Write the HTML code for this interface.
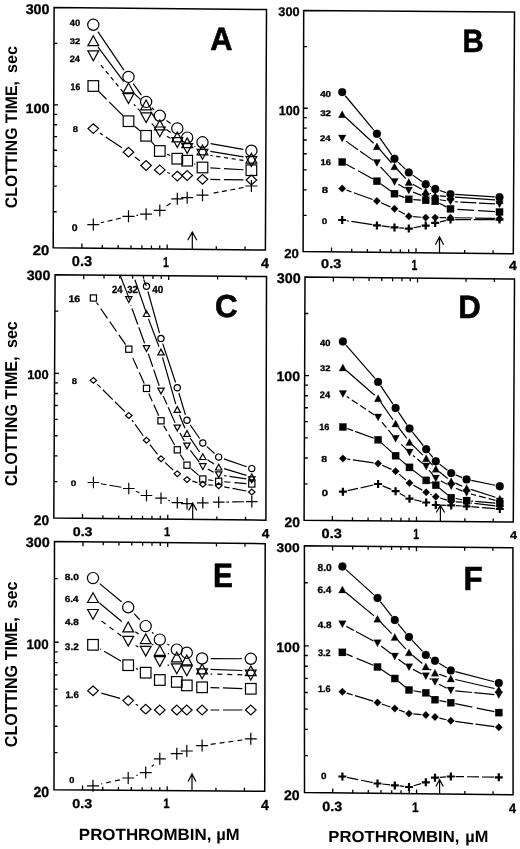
<!DOCTYPE html>
<html><head><meta charset="utf-8"><title>Clotting time vs prothrombin</title>
<style>
html,body{margin:0;padding:0;background:#fff;}
body{width:520px;height:849px;overflow:hidden;}
svg{display:block;filter:grayscale(100%);}
text{font-family:"Liberation Sans", sans-serif;font-weight:bold;fill:#000;text-rendering:geometricPrecision;}
</style></head><body>
<svg width="520" height="849" viewBox="0 0 520 849">
<rect width="520" height="849" fill="#fff"/>
<g shape-rendering="geometricPrecision">
<path d="M54.1 7.5L266.5 9.5L265.4 250L53.2 247.7Z" fill="none" stroke="#000" stroke-width="1.5" stroke-linejoin="miter"/>
<path d="M81.92 248.01v-4.4M102.3 248.23v-3.3M118.1 248.4v-3.3M131.02 248.54v-3.3M141.94 248.66v-3.3M151.4 248.76v-3.3M159.74 248.85v-3.3M167.2 248.94v-4.4M216.3 249.47v-3.3M245.02 249.78v-3.3M53.97 43.46h3.4M53.73 104.95h4.4M53.7 114.29h3.4M53.66 124.74h3.4M53.62 136.58h3.4M53.57 150.25h3.4M53.5 166.43h3.4M53.43 186.22h3.4M53.33 211.74h3.4" stroke="#000" stroke-width="1.3"/>
<path d="M303.7 10.5L514.5 12L513.3 253.8L303.1 251.5Z" fill="none" stroke="#000" stroke-width="1.5" stroke-linejoin="miter"/>
<path d="M331.55 251.81v-4.4M351.74 252.03v-3.3M367.39 252.2v-3.3M380.19 252.34v-3.3M391 252.46v-3.3M400.37 252.56v-3.3M408.64 252.65v-3.3M416.03 252.74v-4.4M464.66 253.27v-3.3M493.11 253.58v-3.3M303.61 46.58h3.4M303.46 108.27h4.4M303.43 117.65h3.4M303.41 128.13h3.4M303.38 140.01h3.4M303.34 153.73h3.4M303.3 169.96h3.4M303.25 189.81h3.4M303.19 215.42h3.4" stroke="#000" stroke-width="1.3"/>
<path d="M55.1 274.7L266.5 276.6L265.9 520.2L53.8 518.1Z" fill="none" stroke="#000" stroke-width="1.5" stroke-linejoin="miter"/>
<path d="M82.51 518.38v-4.4M83.71 274.96v4.4M102.88 518.59v-3.3M104.01 275.14v3.3M118.67 518.74v-3.3M119.76 275.28v3.3M131.58 518.87v-3.3M132.63 275.4v3.3M142.5 518.98v-3.3M143.5 275.49v3.3M151.95 519.07v-3.3M152.93 275.58v3.3M160.29 519.15v-3.3M161.24 275.65v3.3M167.75 519.23v-4.4M168.67 275.72v4.4M216.82 519.71v-3.3M217.59 276.16v3.3M245.53 520v-3.3M246.2 276.42v3.3M54.91 311.14h3.4M54.57 373.44h4.4M54.52 382.91h3.4M54.47 393.5h3.4M54.4 405.5h3.4M54.33 419.36h3.4M54.24 435.74h3.4M54.13 455.8h3.4M53.99 481.66h3.4" stroke="#000" stroke-width="1.3"/>
<path d="M305 277.1L514.5 279L513.3 522L304.1 520.2Z" fill="none" stroke="#000" stroke-width="1.5" stroke-linejoin="miter"/>
<path d="M332.41 520.44v-4.4M333.36 277.36v4.4M352.5 520.62v-3.3M353.47 277.54v3.3M368.09 520.75v-3.3M369.08 277.68v3.3M380.82 520.86v-3.3M381.83 277.8v3.3M391.58 520.95v-3.3M392.61 277.89v3.3M400.91 521.03v-3.3M401.95 277.98v3.3M409.13 521.1v-3.3M410.18 278.05v3.3M416.49 521.17v-4.4M417.55 278.12v4.4M464.9 521.58v-3.3M466.03 278.56v3.3M493.21 521.83v-3.3M494.38 278.82v3.3M304.87 313.5h3.4M304.63 375.72h4.4M304.6 385.18h3.4M304.56 395.75h3.4M304.52 407.74h3.4M304.47 421.58h3.4M304.4 437.95h3.4M304.33 457.98h3.4M304.23 483.8h3.4" stroke="#000" stroke-width="1.3"/>
<path d="M54.5 541.5L265.2 543.7L264.7 791.3L54 789.8Z" fill="none" stroke="#000" stroke-width="1.5" stroke-linejoin="miter"/>
<path d="M82.52 790v-4.4M83.02 541.8v4.4M102.75 790.15v-3.3M103.25 542.01v3.3M118.45 790.26v-3.3M118.95 542.17v3.3M131.27 790.35v-3.3M131.77 542.31v3.3M142.11 790.43v-3.3M142.61 542.42v3.3M151.5 790.49v-3.3M152 542.52v3.3M159.79 790.55v-3.3M160.29 542.6v3.3M167.2 790.61v-4.4M167.7 542.68v4.4M215.95 790.95v-3.3M216.45 543.19v3.3M244.47 791.16v-3.3M244.97 543.49v3.3M54.43 578.68h3.4M54.3 642.23h4.4M54.28 651.89h3.4M54.26 662.69h3.4M54.23 674.93h3.4M54.2 689.07h3.4M54.17 705.79h3.4M54.13 726.25h3.4M54.07 752.62h3.4" stroke="#000" stroke-width="1.3"/>
<path d="M304.4 545.8L512.9 547.8L513.1 794.8L304.5 792.6Z" fill="none" stroke="#000" stroke-width="1.5" stroke-linejoin="miter"/>
<path d="M332.73 792.9v-4.4M332.62 546.07v4.4M352.77 793.11v-3.3M352.64 546.26v3.3M368.3 793.27v-3.3M368.17 546.41v3.3M381 793.41v-3.3M380.86 546.53v3.3M391.73 793.52v-3.3M391.59 546.64v3.3M401.03 793.62v-3.3M400.88 546.73v3.3M409.23 793.7v-3.3M409.08 546.8v3.3M416.57 793.78v-4.4M416.42 546.87v4.4M464.83 794.29v-3.3M464.66 547.34v3.3M493.07 794.59v-3.3M492.88 547.61v3.3M304.41 582.75h3.4M304.44 645.92h4.4M304.44 655.52h3.4M304.45 666.26h3.4M304.45 678.43h3.4M304.46 692.48h3.4M304.47 709.09h3.4M304.47 729.43h3.4M304.49 755.65h3.4" stroke="#000" stroke-width="1.3"/>
<path d="M120.71 218.14L101.09 222.76" fill="none" stroke="#000" stroke-width="1.2" stroke-dasharray="5 3.5"/>
<path d="M138.16 215.15L136.44 215.35" fill="none" stroke="#000" stroke-width="1.2" stroke-dasharray="5 3.5"/>
<path d="M170.63 203.22L166.47 205.98" fill="none" stroke="#000" stroke-width="1.2" stroke-dasharray="5 3.5"/>
<path d="M243.54 187.48L210.36 193.72" fill="none" stroke="#000" stroke-width="1.2" stroke-dasharray="5 3.5"/>
<path d="M121.94 147.8L99.86 133" fill="none" stroke="#000" stroke-width="1.2" stroke-dasharray="19.5 3.7"/>
<path d="M139.8 160.74L134.8 156.96" fill="none" stroke="#000" stroke-width="1.2" stroke-dasharray="19.5 3.7"/>
<path d="M169.85 173.46L167.25 172.54" fill="none" stroke="#000" stroke-width="1.2" stroke-dasharray="19.5 3.7"/>
<path d="M243.5 179.89L210.4 179.41" fill="none" stroke="#000" stroke-width="1.2" stroke-dasharray="19.5 3.7"/>
<path d="M122.91 115.61L98.89 91.59" fill="none" stroke="#000" stroke-width="1.2" stroke-dasharray="19.5 3.7"/>
<path d="M140.02 130.76L134.58 126.24" fill="none" stroke="#000" stroke-width="1.2" stroke-dasharray="19.5 3.7"/>
<path d="M154.51 145.13L151.39 141.67" fill="none" stroke="#000" stroke-width="1.2" stroke-dasharray="19.5 3.7"/>
<path d="M170.07 155.52L167.03 154.18" fill="none" stroke="#000" stroke-width="1.2" stroke-dasharray="19.5 3.7"/>
<path d="M195.28 164.29L194.42 163.91" fill="none" stroke="#000" stroke-width="1.2" stroke-dasharray="19.5 3.7"/>
<path d="M243.51 169.76L210.39 167.94" fill="none" stroke="#000" stroke-width="1.2" stroke-dasharray="19.5 3.7"/>
<path d="M123.41 92.33L98.39 61.97" fill="none" stroke="#000" stroke-width="1.2" stroke-dasharray="4.2 3.6"/>
<path d="M140.69 111.8L133.91 104.4" fill="none" stroke="#000" stroke-width="1.2" stroke-dasharray="4.2 3.6"/>
<path d="M154.25 126.14L151.65 123.46" fill="none" stroke="#000" stroke-width="1.2" stroke-dasharray="4.2 3.6"/>
<path d="M170.46 138.36L166.64 136.04" fill="none" stroke="#000" stroke-width="1.2" stroke-dasharray="4.2 3.6"/>
<path d="M243.49 160.42L210.41 155.48" fill="none" stroke="#000" stroke-width="1.2" stroke-dasharray="4.2 3.6"/>
<path d="M123.72 81.58L98.08 47.12M140.35 99.44L134.25 93.56M155.28 118.4L150.62 111.6M170.7 132.48L166.4 129.52M195.26 146.59L194.44 146.21M243.51 156.88L210.39 151.32" fill="none" stroke="#000" stroke-width="1.2"/>
<path d="M123.91 70.11L97.89 31.59M141.38 95.19L133.22 83.61M154.04 109.96L151.86 107.74M170.65 123.61L166.45 120.59M243.32 149.31L210.58 143.69" fill="none" stroke="#000" stroke-width="1.2"/>
<path d="M87.3 224.6h12M93.3 218.6v12" stroke="#000" stroke-width="1.2" fill="none"/>
<path d="M122.5 216.3h12M128.5 210.3v12" stroke="#000" stroke-width="1.2" fill="none"/>
<path d="M140.1 214.2h12M146.1 208.2v12" stroke="#000" stroke-width="1.2" fill="none"/>
<path d="M153.8 210.4h12M159.8 204.4v12" stroke="#000" stroke-width="1.2" fill="none"/>
<path d="M171.3 198.8h12M177.3 192.8v12" stroke="#000" stroke-width="1.2" fill="none"/>
<path d="M181.2 197.7h12M187.2 191.7v12" stroke="#000" stroke-width="1.2" fill="none"/>
<path d="M196.5 195.2h12M202.5 189.2v12" stroke="#000" stroke-width="1.2" fill="none"/>
<path d="M245.4 186h12M251.4 180v12" stroke="#000" stroke-width="1.2" fill="none"/>
<polygon points="93.3,123.77 98.6,128.6 93.3,133.43 88,128.6" fill="none" stroke="#000" stroke-width="1.2"/>
<polygon points="128.5,147.37 133.8,152.2 128.5,157.03 123.2,152.2" fill="none" stroke="#000" stroke-width="1.2"/>
<polygon points="146.1,160.67 151.4,165.5 146.1,170.33 140.8,165.5" fill="none" stroke="#000" stroke-width="1.2"/>
<polygon points="159.8,165.07 165.1,169.9 159.8,174.73 154.5,169.9" fill="none" stroke="#000" stroke-width="1.2"/>
<polygon points="177.3,171.27 182.6,176.1 177.3,180.93 172,176.1" fill="none" stroke="#000" stroke-width="1.2"/>
<polygon points="187.2,170.67 192.5,175.5 187.2,180.33 181.9,175.5" fill="none" stroke="#000" stroke-width="1.2"/>
<polygon points="202.5,174.47 207.8,179.3 202.5,184.13 197.2,179.3" fill="none" stroke="#000" stroke-width="1.2"/>
<polygon points="251.4,175.17 256.7,180 251.4,184.83 246.1,180" fill="none" stroke="#000" stroke-width="1.2"/>
<rect x="88" y="80.7" width="10.6" height="10.6" fill="none" stroke="#000" stroke-width="1.2"/>
<rect x="123.2" y="115.9" width="10.6" height="10.6" fill="none" stroke="#000" stroke-width="1.2"/>
<rect x="140.8" y="130.5" width="10.6" height="10.6" fill="none" stroke="#000" stroke-width="1.2"/>
<rect x="154.5" y="145.7" width="10.6" height="10.6" fill="none" stroke="#000" stroke-width="1.2"/>
<rect x="172" y="153.4" width="10.6" height="10.6" fill="none" stroke="#000" stroke-width="1.2"/>
<rect x="181.9" y="155.4" width="10.6" height="10.6" fill="none" stroke="#000" stroke-width="1.2"/>
<rect x="197.2" y="162.2" width="10.6" height="10.6" fill="none" stroke="#000" stroke-width="1.2"/>
<rect x="246.1" y="164.9" width="10.6" height="10.6" fill="none" stroke="#000" stroke-width="1.2"/>
<polygon points="93.3,60.72 98.7,50.88 87.9,50.88" fill="none" stroke="#000" stroke-width="1.2" stroke-linejoin="miter"/>
<polygon points="128.5,103.42 133.9,93.58 123.1,93.58" fill="none" stroke="#000" stroke-width="1.2" stroke-linejoin="miter"/>
<polygon points="146.1,122.62 151.5,112.78 140.7,112.78" fill="none" stroke="#000" stroke-width="1.2" stroke-linejoin="miter"/>
<polygon points="159.8,136.82 165.2,126.98 154.4,126.98" fill="none" stroke="#000" stroke-width="1.2" stroke-linejoin="miter"/>
<polygon points="177.3,147.42 182.7,137.58 171.9,137.58" fill="none" stroke="#000" stroke-width="1.2" stroke-linejoin="miter"/>
<polygon points="187.2,153.42 192.6,143.58 181.8,143.58" fill="none" stroke="#000" stroke-width="1.2" stroke-linejoin="miter"/>
<polygon points="202.5,159.22 207.9,149.38 197.1,149.38" fill="none" stroke="#000" stroke-width="1.2" stroke-linejoin="miter"/>
<polygon points="251.4,166.52 256.8,156.68 246,156.68" fill="none" stroke="#000" stroke-width="1.2" stroke-linejoin="miter"/>
<polygon points="93.3,35.78 98.7,45.62 87.9,45.62" fill="none" stroke="#000" stroke-width="1.2" stroke-linejoin="miter"/>
<polygon points="128.5,83.08 133.9,92.92 123.1,92.92" fill="none" stroke="#000" stroke-width="1.2" stroke-linejoin="miter"/>
<polygon points="146.1,100.08 151.5,109.92 140.7,109.92" fill="none" stroke="#000" stroke-width="1.2" stroke-linejoin="miter"/>
<polygon points="159.8,120.08 165.2,129.92 154.4,129.92" fill="none" stroke="#000" stroke-width="1.2" stroke-linejoin="miter"/>
<polygon points="177.3,132.08 182.7,141.92 171.9,141.92" fill="none" stroke="#000" stroke-width="1.2" stroke-linejoin="miter"/>
<polygon points="187.2,137.88 192.6,147.72 181.8,147.72" fill="none" stroke="#000" stroke-width="1.2" stroke-linejoin="miter"/>
<polygon points="202.5,145.08 207.9,154.92 197.1,154.92" fill="none" stroke="#000" stroke-width="1.2" stroke-linejoin="miter"/>
<polygon points="251.4,153.28 256.8,163.12 246,163.12" fill="none" stroke="#000" stroke-width="1.2" stroke-linejoin="miter"/>
<circle cx="93.3" cy="24.8" r="5.6" fill="none" stroke="#000" stroke-width="1.2"/>
<circle cx="128.5" cy="76.9" r="5.6" fill="none" stroke="#000" stroke-width="1.2"/>
<circle cx="146.1" cy="101.9" r="5.6" fill="none" stroke="#000" stroke-width="1.2"/>
<circle cx="159.8" cy="115.8" r="5.6" fill="none" stroke="#000" stroke-width="1.2"/>
<circle cx="177.3" cy="128.4" r="5.6" fill="none" stroke="#000" stroke-width="1.2"/>
<circle cx="187.2" cy="137.6" r="5.6" fill="none" stroke="#000" stroke-width="1.2"/>
<circle cx="202.5" cy="142.3" r="5.6" fill="none" stroke="#000" stroke-width="1.2"/>
<circle cx="251.4" cy="150.7" r="5.6" fill="none" stroke="#000" stroke-width="1.2"/>
<path d="M372.16 224.66L346.94 220.74" fill="none" stroke="#000" stroke-width="1.2" stroke-dasharray="21 2.6"/>
<path d="M389.73 226.86L381.67 225.94" fill="none" stroke="#000" stroke-width="1.2" stroke-dasharray="21 2.6"/>
<path d="M404.02 228.2L399.28 227.8" fill="none" stroke="#000" stroke-width="1.2" stroke-dasharray="21 2.6"/>
<path d="M420.97 226.44L413.53 227.76" fill="none" stroke="#000" stroke-width="1.2" stroke-dasharray="21 2.6"/>
<path d="M445.81 220.61L439.89 221.89" fill="none" stroke="#000" stroke-width="1.2" stroke-dasharray="21 2.6"/>
<path d="M494.7 219.6L455.3 219.6" fill="none" stroke="#000" stroke-width="1.2" stroke-dasharray="21 2.6"/>
<path d="M372.67 199.47L346.43 190.03" fill="none" stroke="#000" stroke-width="1.2" stroke-dasharray="20 2.6"/>
<path d="M390.38 206.9L381.02 202.8" fill="none" stroke="#000" stroke-width="1.2" stroke-dasharray="20 2.6"/>
<path d="M404.83 214.19L398.47 210.81" fill="none" stroke="#000" stroke-width="1.2" stroke-dasharray="20 2.6"/>
<path d="M421.21 217.25L413.29 216.65" fill="none" stroke="#000" stroke-width="1.2" stroke-dasharray="20 2.6"/>
<path d="M446 217.67L439.7 217.63" fill="none" stroke="#000" stroke-width="1.2" stroke-dasharray="20 2.6"/>
<path d="M495 218.34L455 217.76" fill="none" stroke="#000" stroke-width="1.2" stroke-dasharray="20 2.6"/>
<path d="M372.96 179.02L346.14 164.18" fill="none" stroke="#000" stroke-width="1.2" stroke-dasharray="17 3.8"/>
<path d="M390.83 191.09L380.57 183.81" fill="none" stroke="#000" stroke-width="1.2" stroke-dasharray="17 3.8"/>
<path d="M404.61 197.66L398.69 195.34" fill="none" stroke="#000" stroke-width="1.2" stroke-dasharray="17 3.8"/>
<path d="M421.21 200.03L413.29 199.57" fill="none" stroke="#000" stroke-width="1.2" stroke-dasharray="17 3.8"/>
<path d="M446.47 206.9L439.23 203.3" fill="none" stroke="#000" stroke-width="1.2" stroke-dasharray="17 3.8"/>
<path d="M495.01 211.72L454.99 209.18" fill="none" stroke="#000" stroke-width="1.2" stroke-dasharray="17 3.8"/>
<path d="M373.18 160.38L345.92 141.12" fill="none" stroke="#000" stroke-width="1.2" stroke-dasharray="16 2.6"/>
<path d="M391.41 178.66L379.99 166.34" fill="none" stroke="#000" stroke-width="1.2" stroke-dasharray="16 2.6"/>
<path d="M404.89 188.18L398.41 184.32" fill="none" stroke="#000" stroke-width="1.2" stroke-dasharray="16 2.6"/>
<path d="M421.45 195.37L413.05 192.13" fill="none" stroke="#000" stroke-width="1.2" stroke-dasharray="16 2.6"/>
<path d="M446.01 200.77L439.69 199.73" fill="none" stroke="#000" stroke-width="1.2" stroke-dasharray="16 2.6"/>
<path d="M494.96 203.95L455.04 201.75" fill="none" stroke="#000" stroke-width="1.2" stroke-dasharray="16 2.6"/>
<path d="M373.56 143.21L345.54 117.29M391.5 162.98L379.9 149.72M405.73 178.65L397.57 169.75M421.73 189.27L412.77 184.23M431.01 193.73L429.89 193.27M445.97 196.41L439.73 195.89M494.96 199.89L455.04 197.11" fill="none" stroke="#000" stroke-width="1.2"/>
<path d="M373.86 130.15L345.24 95.75M391.76 154.82L379.64 137.68M405.37 169.11L397.93 161.99M421.81 181.48L412.69 175.12M430.96 186.86L429.94 186.34M445.99 192.6L439.71 190.5M494.76 196.9L455.24 194.4" fill="none" stroke="#000" stroke-width="1.2"/>
<path d="M338.2 220h8M342.2 216v8" stroke="#000" stroke-width="2.2" fill="none"/>
<path d="M372.9 225.4h8M376.9 221.4v8" stroke="#000" stroke-width="2.2" fill="none"/>
<path d="M390.5 227.4h8M394.5 223.4v8" stroke="#000" stroke-width="2.2" fill="none"/>
<path d="M404.8 228.6h8M408.8 224.6v8" stroke="#000" stroke-width="2.2" fill="none"/>
<path d="M421.7 225.6h8M425.7 221.6v8" stroke="#000" stroke-width="2.2" fill="none"/>
<path d="M431.2 222.9h8M435.2 218.9v8" stroke="#000" stroke-width="2.2" fill="none"/>
<path d="M446.5 219.6h8M450.5 215.6v8" stroke="#000" stroke-width="2.2" fill="none"/>
<path d="M495.5 219.6h8M499.5 215.6v8" stroke="#000" stroke-width="2.2" fill="none"/>
<polygon points="342.2,184.8 345.9,188.5 342.2,192.2 338.5,188.5" fill="#000" stroke="#000" stroke-width="0.3"/>
<polygon points="376.9,197.3 380.6,201 376.9,204.7 373.2,201" fill="#000" stroke="#000" stroke-width="0.3"/>
<polygon points="394.5,205 398.2,208.7 394.5,212.4 390.8,208.7" fill="#000" stroke="#000" stroke-width="0.3"/>
<polygon points="408.8,212.6 412.5,216.3 408.8,220 405.1,216.3" fill="#000" stroke="#000" stroke-width="0.3"/>
<polygon points="425.7,213.9 429.4,217.6 425.7,221.3 422,217.6" fill="#000" stroke="#000" stroke-width="0.3"/>
<polygon points="435.2,213.9 438.9,217.6 435.2,221.3 431.5,217.6" fill="#000" stroke="#000" stroke-width="0.3"/>
<polygon points="450.5,214 454.2,217.7 450.5,221.4 446.8,217.7" fill="#000" stroke="#000" stroke-width="0.3"/>
<polygon points="499.5,214.7 503.2,218.4 499.5,222.1 495.8,218.4" fill="#000" stroke="#000" stroke-width="0.3"/>
<rect x="338.65" y="158.45" width="7.1" height="7.1" fill="#000" stroke="#000" stroke-width="0.3"/>
<rect x="373.35" y="177.65" width="7.1" height="7.1" fill="#000" stroke="#000" stroke-width="0.3"/>
<rect x="390.95" y="190.15" width="7.1" height="7.1" fill="#000" stroke="#000" stroke-width="0.3"/>
<rect x="405.25" y="195.75" width="7.1" height="7.1" fill="#000" stroke="#000" stroke-width="0.3"/>
<rect x="422.15" y="196.75" width="7.1" height="7.1" fill="#000" stroke="#000" stroke-width="0.3"/>
<rect x="431.65" y="197.75" width="7.1" height="7.1" fill="#000" stroke="#000" stroke-width="0.3"/>
<rect x="446.95" y="205.35" width="7.1" height="7.1" fill="#000" stroke="#000" stroke-width="0.3"/>
<rect x="495.95" y="208.45" width="7.1" height="7.1" fill="#000" stroke="#000" stroke-width="0.3"/>
<polygon points="342.2,141.95 345.95,135.05 338.45,135.05" fill="#000" stroke="#000" stroke-width="0.3" stroke-linejoin="miter"/>
<polygon points="376.9,166.45 380.65,159.55 373.15,159.55" fill="#000" stroke="#000" stroke-width="0.3" stroke-linejoin="miter"/>
<polygon points="394.5,185.45 398.25,178.55 390.75,178.55" fill="#000" stroke="#000" stroke-width="0.3" stroke-linejoin="miter"/>
<polygon points="408.8,193.95 412.55,187.05 405.05,187.05" fill="#000" stroke="#000" stroke-width="0.3" stroke-linejoin="miter"/>
<polygon points="425.7,200.45 429.45,193.55 421.95,193.55" fill="#000" stroke="#000" stroke-width="0.3" stroke-linejoin="miter"/>
<polygon points="435.2,202.45 438.95,195.55 431.45,195.55" fill="#000" stroke="#000" stroke-width="0.3" stroke-linejoin="miter"/>
<polygon points="450.5,204.95 454.25,198.05 446.75,198.05" fill="#000" stroke="#000" stroke-width="0.3" stroke-linejoin="miter"/>
<polygon points="499.5,207.65 503.25,200.75 495.75,200.75" fill="#000" stroke="#000" stroke-width="0.3" stroke-linejoin="miter"/>
<polygon points="342.2,110.75 345.95,117.65 338.45,117.65" fill="#000" stroke="#000" stroke-width="0.3" stroke-linejoin="miter"/>
<polygon points="376.9,142.85 380.65,149.75 373.15,149.75" fill="#000" stroke="#000" stroke-width="0.3" stroke-linejoin="miter"/>
<polygon points="394.5,162.95 398.25,169.85 390.75,169.85" fill="#000" stroke="#000" stroke-width="0.3" stroke-linejoin="miter"/>
<polygon points="408.8,178.55 412.55,185.45 405.05,185.45" fill="#000" stroke="#000" stroke-width="0.3" stroke-linejoin="miter"/>
<polygon points="425.7,188.05 429.45,194.95 421.95,194.95" fill="#000" stroke="#000" stroke-width="0.3" stroke-linejoin="miter"/>
<polygon points="435.2,192.05 438.95,198.95 431.45,198.95" fill="#000" stroke="#000" stroke-width="0.3" stroke-linejoin="miter"/>
<polygon points="450.5,193.35 454.25,200.25 446.75,200.25" fill="#000" stroke="#000" stroke-width="0.3" stroke-linejoin="miter"/>
<polygon points="499.5,196.75 503.25,203.65 495.75,203.65" fill="#000" stroke="#000" stroke-width="0.3" stroke-linejoin="miter"/>
<circle cx="342.2" cy="92.1" r="3.95" fill="#000" stroke="#000" stroke-width="0.3"/>
<circle cx="376.9" cy="133.8" r="3.95" fill="#000" stroke="#000" stroke-width="0.3"/>
<circle cx="394.5" cy="158.7" r="3.95" fill="#000" stroke="#000" stroke-width="0.3"/>
<circle cx="408.8" cy="172.4" r="3.95" fill="#000" stroke="#000" stroke-width="0.3"/>
<circle cx="425.7" cy="184.2" r="3.95" fill="#000" stroke="#000" stroke-width="0.3"/>
<circle cx="435.2" cy="189" r="3.95" fill="#000" stroke="#000" stroke-width="0.3"/>
<circle cx="450.5" cy="194.1" r="3.95" fill="#000" stroke="#000" stroke-width="0.3"/>
<circle cx="499.5" cy="197.2" r="3.95" fill="#000" stroke="#000" stroke-width="0.3"/>
<path d="M121.31 487.23L100.89 483.77" fill="none" stroke="#000" stroke-width="1.2" stroke-dasharray="12 3"/>
<path d="M139.43 492.7L135.87 491.3" fill="none" stroke="#000" stroke-width="1.2" stroke-dasharray="12 3"/>
<path d="M169.97 500.68L168.33 500.22" fill="none" stroke="#000" stroke-width="1.2" stroke-dasharray="12 3"/>
<path d="M244.2 501.74L226.3 502.06" fill="none" stroke="#000" stroke-width="1.2" stroke-dasharray="12 3"/>
<path d="M124.82 411.56L97.38 384.34" fill="none" stroke="#000" stroke-width="1.2" stroke-dasharray="14 3"/>
<path d="M143.25 435.74L132.05 420.06" fill="none" stroke="#000" stroke-width="1.2" stroke-dasharray="14 3"/>
<path d="M157.55 454.39L149.95 444.71" fill="none" stroke="#000" stroke-width="1.2" stroke-dasharray="14 3"/>
<path d="M173.18 470.01L165.12 462.59" fill="none" stroke="#000" stroke-width="1.2" stroke-dasharray="14 3"/>
<path d="M197.43 482.7L192.37 481.2" fill="none" stroke="#000" stroke-width="1.2" stroke-dasharray="14 3"/>
<path d="M213.12 485.27L208.38 484.83" fill="none" stroke="#000" stroke-width="1.2" stroke-dasharray="14 3"/>
<path d="M246.3 490.97L224.2 486.83" fill="none" stroke="#000" stroke-width="1.2" stroke-dasharray="14 3"/>
<path d="M125.67 344.68L96.53 302.52" fill="none" stroke="#000" stroke-width="1.2" stroke-dasharray="12 4"/>
<path d="M144.24 383.39L131.06 354.21" fill="none" stroke="#000" stroke-width="1.2" stroke-dasharray="12 4"/>
<path d="M158.75 415.78L148.75 393.42" fill="none" stroke="#000" stroke-width="1.2" stroke-dasharray="12 4"/>
<path d="M174.61 445.01L163.69 425.59" fill="none" stroke="#000" stroke-width="1.2" stroke-dasharray="12 4"/>
<path d="M184.07 460.55L180.23 454.45" fill="none" stroke="#000" stroke-width="1.2" stroke-dasharray="12 4"/>
<path d="M198.66 475.38L191.14 468.82" fill="none" stroke="#000" stroke-width="1.2" stroke-dasharray="12 4"/>
<path d="M213.26 480.51L208.24 479.79" fill="none" stroke="#000" stroke-width="1.2" stroke-dasharray="12 4"/>
<path d="M246.32 483.55L224.18 481.75" fill="none" stroke="#000" stroke-width="1.2" stroke-dasharray="12 4"/>
<path d="M144.59 343.23L130.71 304.87" fill="none" stroke="#000" stroke-width="1.2" stroke-dasharray="17 3"/>
<path d="M159.19 385.7L148.31 353.8" fill="none" stroke="#000" stroke-width="1.2" stroke-dasharray="17 3"/>
<path d="M175.04 422.88L163.26 396.12" fill="none" stroke="#000" stroke-width="1.2" stroke-dasharray="17 3"/>
<path d="M184.34 441.07L179.96 432.93" fill="none" stroke="#000" stroke-width="1.2" stroke-dasharray="17 3"/>
<path d="M199.39 462.16L190.41 450.44" fill="none" stroke="#000" stroke-width="1.2" stroke-dasharray="17 3"/>
<path d="M213.71 472.16L207.79 469.14" fill="none" stroke="#000" stroke-width="1.2" stroke-dasharray="17 3"/>
<path d="M246.27 478.95L224.23 475.55" fill="none" stroke="#000" stroke-width="1.2" stroke-dasharray="17 3"/>
<path d="M159.02 346.76L148.48 318.84M175.77 404.11L162.53 357.39M184.9 428.31L179.4 414.69M199.64 451.98L190.16 438.12M214.03 464.01L207.47 459.69M246.43 475.31L224.07 468.69" fill="none" stroke="#000" stroke-width="1.2"/>
<path d="M159.53 333.1L147.97 291.5M175.57 382.48L162.73 343.62M185.43 414.93L178.87 392.97M199.67 438.48L190.13 424.72M214.58 453.45L206.92 446.65M246.6 466.79L223.9 458.91" fill="none" stroke="#000" stroke-width="1.2"/>
<path d="M87.6 482.5h11.6M93.4 476.7v11.6" stroke="#000" stroke-width="1.2" fill="none"/>
<path d="M123 488.5h11.6M128.8 482.7v11.6" stroke="#000" stroke-width="1.2" fill="none"/>
<path d="M140.7 495.5h11.6M146.5 489.7v11.6" stroke="#000" stroke-width="1.2" fill="none"/>
<path d="M155.2 498.2h11.6M161 492.4v11.6" stroke="#000" stroke-width="1.2" fill="none"/>
<path d="M171.5 502.7h11.6M177.3 496.9v11.6" stroke="#000" stroke-width="1.2" fill="none"/>
<path d="M181.2 503.7h11.6M187 497.9v11.6" stroke="#000" stroke-width="1.2" fill="none"/>
<path d="M197 502.8h11.6M202.8 497v11.6" stroke="#000" stroke-width="1.2" fill="none"/>
<path d="M212.9 502.2h11.6M218.7 496.4v11.6" stroke="#000" stroke-width="1.2" fill="none"/>
<path d="M246 501.6h11.6M251.8 495.8v11.6" stroke="#000" stroke-width="1.2" fill="none"/>
<polygon points="93.4,377.5 96.6,380.4 93.4,383.3 90.2,380.4" fill="none" stroke="#000" stroke-width="1.2"/>
<polygon points="128.8,412.6 132,415.5 128.8,418.4 125.6,415.5" fill="none" stroke="#000" stroke-width="1.2"/>
<polygon points="146.5,437.4 149.7,440.3 146.5,443.2 143.3,440.3" fill="none" stroke="#000" stroke-width="1.2"/>
<polygon points="161,455.9 164.2,458.8 161,461.7 157.8,458.8" fill="none" stroke="#000" stroke-width="1.2"/>
<polygon points="177.3,470.9 180.5,473.8 177.3,476.7 174.1,473.8" fill="none" stroke="#000" stroke-width="1.2"/>
<polygon points="187,476.7 190.2,479.6 187,482.5 183.8,479.6" fill="none" stroke="#000" stroke-width="1.2"/>
<polygon points="202.8,481.4 206,484.3 202.8,487.2 199.6,484.3" fill="none" stroke="#000" stroke-width="1.2"/>
<polygon points="218.7,482.9 221.9,485.8 218.7,488.7 215.5,485.8" fill="none" stroke="#000" stroke-width="1.2"/>
<polygon points="251.8,489.1 255,492 251.8,494.9 248.6,492" fill="none" stroke="#000" stroke-width="1.2"/>
<rect x="90.3" y="294.9" width="6.2" height="6.2" fill="none" stroke="#000" stroke-width="1.2"/>
<rect x="125.7" y="346.1" width="6.2" height="6.2" fill="none" stroke="#000" stroke-width="1.2"/>
<rect x="143.4" y="385.3" width="6.2" height="6.2" fill="none" stroke="#000" stroke-width="1.2"/>
<rect x="157.9" y="417.7" width="6.2" height="6.2" fill="none" stroke="#000" stroke-width="1.2"/>
<rect x="174.2" y="446.7" width="6.2" height="6.2" fill="none" stroke="#000" stroke-width="1.2"/>
<rect x="183.9" y="462.1" width="6.2" height="6.2" fill="none" stroke="#000" stroke-width="1.2"/>
<rect x="199.7" y="475.9" width="6.2" height="6.2" fill="none" stroke="#000" stroke-width="1.2"/>
<rect x="215.6" y="478.2" width="6.2" height="6.2" fill="none" stroke="#000" stroke-width="1.2"/>
<rect x="248.7" y="480.9" width="6.2" height="6.2" fill="none" stroke="#000" stroke-width="1.2"/>
<polygon points="128.8,302.5 132,296.7 125.6,296.7" fill="none" stroke="#000" stroke-width="1.2" stroke-linejoin="miter"/>
<polygon points="146.5,351.4 149.7,345.6 143.3,345.6" fill="none" stroke="#000" stroke-width="1.2" stroke-linejoin="miter"/>
<polygon points="161,393.9 164.2,388.1 157.8,388.1" fill="none" stroke="#000" stroke-width="1.2" stroke-linejoin="miter"/>
<polygon points="177.3,430.9 180.5,425.1 174.1,425.1" fill="none" stroke="#000" stroke-width="1.2" stroke-linejoin="miter"/>
<polygon points="187,448.9 190.2,443.1 183.8,443.1" fill="none" stroke="#000" stroke-width="1.2" stroke-linejoin="miter"/>
<polygon points="202.8,469.5 206,463.7 199.6,463.7" fill="none" stroke="#000" stroke-width="1.2" stroke-linejoin="miter"/>
<polygon points="218.7,477.6 221.9,471.8 215.5,471.8" fill="none" stroke="#000" stroke-width="1.2" stroke-linejoin="miter"/>
<polygon points="251.8,482.7 255,476.9 248.6,476.9" fill="none" stroke="#000" stroke-width="1.2" stroke-linejoin="miter"/>
<polygon points="146.5,310.7 149.7,316.5 143.3,316.5" fill="none" stroke="#000" stroke-width="1.2" stroke-linejoin="miter"/>
<polygon points="161,349.1 164.2,354.9 157.8,354.9" fill="none" stroke="#000" stroke-width="1.2" stroke-linejoin="miter"/>
<polygon points="177.3,406.6 180.5,412.4 174.1,412.4" fill="none" stroke="#000" stroke-width="1.2" stroke-linejoin="miter"/>
<polygon points="187,430.6 190.2,436.4 183.8,436.4" fill="none" stroke="#000" stroke-width="1.2" stroke-linejoin="miter"/>
<polygon points="202.8,453.7 206,459.5 199.6,459.5" fill="none" stroke="#000" stroke-width="1.2" stroke-linejoin="miter"/>
<polygon points="218.7,464.2 221.9,470 215.5,470" fill="none" stroke="#000" stroke-width="1.2" stroke-linejoin="miter"/>
<polygon points="251.8,474 255,479.8 248.6,479.8" fill="none" stroke="#000" stroke-width="1.2" stroke-linejoin="miter"/>
<circle cx="146.5" cy="286.2" r="3.1" fill="none" stroke="#000" stroke-width="1.2"/>
<circle cx="161" cy="338.4" r="3.1" fill="none" stroke="#000" stroke-width="1.2"/>
<circle cx="177.3" cy="387.7" r="3.1" fill="none" stroke="#000" stroke-width="1.2"/>
<circle cx="187" cy="420.2" r="3.1" fill="none" stroke="#000" stroke-width="1.2"/>
<circle cx="202.8" cy="443" r="3.1" fill="none" stroke="#000" stroke-width="1.2"/>
<circle cx="218.7" cy="457.1" r="3.1" fill="none" stroke="#000" stroke-width="1.2"/>
<circle cx="251.8" cy="468.6" r="3.1" fill="none" stroke="#000" stroke-width="1.2"/>
<path d="M120.1 275.3L129.6 299.6" stroke="#000" stroke-width="1.2" fill="none"/>
<path d="M134.9 279.8L146.6 313.6" stroke="#000" stroke-width="1.2" fill="none"/>
<path d="M143.7 279.6L146.4 286" stroke="#000" stroke-width="1.2" fill="none"/>
<path d="M373.41 485.03L347.59 490.67" fill="none" stroke="#000" stroke-width="1.2" stroke-dasharray="13 2.8"/>
<path d="M391.16 489.37L382.54 485.83" fill="none" stroke="#000" stroke-width="1.2" stroke-dasharray="13 2.8"/>
<path d="M405.28 496.42L399.82 493.48" fill="none" stroke="#000" stroke-width="1.2" stroke-dasharray="13 2.8"/>
<path d="M421.52 501.44L414.18 499.76" fill="none" stroke="#000" stroke-width="1.2" stroke-dasharray="13 2.8"/>
<path d="M446.4 505.28L440.6 505.12" fill="none" stroke="#000" stroke-width="1.2" stroke-dasharray="13 2.8"/>
<path d="M461.81 506.02L455.99 505.68" fill="none" stroke="#000" stroke-width="1.2" stroke-dasharray="13 2.8"/>
<path d="M495.02 508.61L471.38 506.69" fill="none" stroke="#000" stroke-width="1.2" stroke-dasharray="13 2.8"/>
<path d="M373.64 462.87L347.36 459.13" fill="none" stroke="#000" stroke-width="1.2" stroke-dasharray="21 2.5"/>
<path d="M391.48 469.39L382.22 465.31" fill="none" stroke="#000" stroke-width="1.2" stroke-dasharray="21 2.5"/>
<path d="M406.07 480.09L399.03 474.11" fill="none" stroke="#000" stroke-width="1.2" stroke-dasharray="21 2.5"/>
<path d="M422.27 490.11L413.43 485.19" fill="none" stroke="#000" stroke-width="1.2" stroke-dasharray="21 2.5"/>
<path d="M431.71 494.83L430.29 494.17" fill="none" stroke="#000" stroke-width="1.2" stroke-dasharray="21 2.5"/>
<path d="M446.9 500.16L440.1 498.04" fill="none" stroke="#000" stroke-width="1.2" stroke-dasharray="21 2.5"/>
<path d="M462.11 502.21L455.69 501.79" fill="none" stroke="#000" stroke-width="1.2" stroke-dasharray="21 2.5"/>
<path d="M495.33 505.79L471.07 503.01" fill="none" stroke="#000" stroke-width="1.2" stroke-dasharray="21 2.5"/>
<path d="M373.87 438.26L347.13 428.54" fill="none" stroke="#000" stroke-width="1.2" stroke-dasharray="20 2.2"/>
<path d="M392.27 452.67L381.43 442.83" fill="none" stroke="#000" stroke-width="1.2" stroke-dasharray="20 2.2"/>
<path d="M406.06 464.5L399.04 458.6" fill="none" stroke="#000" stroke-width="1.2" stroke-dasharray="20 2.2"/>
<path d="M422.65 477.64L413.05 470.16" fill="none" stroke="#000" stroke-width="1.2" stroke-dasharray="20 2.2"/>
<path d="M431.78 483.19L430.22 482.41" fill="none" stroke="#000" stroke-width="1.2" stroke-dasharray="20 2.2"/>
<path d="M447.71 494.86L439.29 488.04" fill="none" stroke="#000" stroke-width="1.2" stroke-dasharray="20 2.2"/>
<path d="M462.18 499.77L455.62 498.53" fill="none" stroke="#000" stroke-width="1.2" stroke-dasharray="20 2.2"/>
<path d="M495.32 503.11L471.08 500.99" fill="none" stroke="#000" stroke-width="1.2" stroke-dasharray="20 2.2"/>
<path d="M374.31 414.88L346.69 396.52" fill="none" stroke="#000" stroke-width="1.2" stroke-dasharray="7 3"/>
<path d="M392.72 435.28L380.98 420.92" fill="none" stroke="#000" stroke-width="1.2" stroke-dasharray="7 3"/>
<path d="M406.26 449.31L398.84 441.99" fill="none" stroke="#000" stroke-width="1.2" stroke-dasharray="7 3"/>
<path d="M422.71 463.58L412.99 455.42" fill="none" stroke="#000" stroke-width="1.2" stroke-dasharray="7 3"/>
<path d="M432.96 474.95L429.04 470.05" fill="none" stroke="#000" stroke-width="1.2" stroke-dasharray="7 3"/>
<path d="M447.13 484.17L439.87 480.53" fill="none" stroke="#000" stroke-width="1.2" stroke-dasharray="7 3"/>
<path d="M462.43 491.08L455.37 488.02" fill="none" stroke="#000" stroke-width="1.2" stroke-dasharray="7 3"/>
<path d="M495.4 500.36L471 494.04" fill="none" stroke="#000" stroke-width="1.2" stroke-dasharray="7 3"/>
<path d="M374.68 395.3L346.32 370.5M393 419.76L380.7 402.04M406.77 438.36L398.33 427.14M422.94 455.12L412.76 445.18M432.73 465.44L429.27 461.66M447.67 478.43L439.33 471.67M462.43 486.18L455.37 483.12M495.47 497.3L470.93 489.4" fill="none" stroke="#000" stroke-width="1.2"/>
<path d="M374.98 378.32L346.02 345.08M392.95 404.05L380.75 385.85M406.83 424.57L398.27 411.93M423.22 445.5L412.48 432.2M432.83 457.49L429.17 452.91M447.44 470.2L439.56 464.1M462.2 477.6L455.6 474.9M495.15 485.25L471.25 480.35" fill="none" stroke="#000" stroke-width="1.2"/>
<path d="M338.9 491.7h8M342.9 487.7v8" stroke="#000" stroke-width="2.2" fill="none"/>
<path d="M374.1 484h8M378.1 480v8" stroke="#000" stroke-width="2.2" fill="none"/>
<path d="M391.6 491.2h8M395.6 487.2v8" stroke="#000" stroke-width="2.2" fill="none"/>
<path d="M405.5 498.7h8M409.5 494.7v8" stroke="#000" stroke-width="2.2" fill="none"/>
<path d="M422.2 502.5h8M426.2 498.5v8" stroke="#000" stroke-width="2.2" fill="none"/>
<path d="M431.8 505h8M435.8 501v8" stroke="#000" stroke-width="2.2" fill="none"/>
<path d="M447.2 505.4h8M451.2 501.4v8" stroke="#000" stroke-width="2.2" fill="none"/>
<path d="M462.6 506.3h8M466.6 502.3v8" stroke="#000" stroke-width="2.2" fill="none"/>
<path d="M495.8 509h8M499.8 505v8" stroke="#000" stroke-width="2.2" fill="none"/>
<polygon points="342.9,454.8 346.6,458.5 342.9,462.2 339.2,458.5" fill="#000" stroke="#000" stroke-width="0.3"/>
<polygon points="378.1,459.8 381.8,463.5 378.1,467.2 374.4,463.5" fill="#000" stroke="#000" stroke-width="0.3"/>
<polygon points="395.6,467.5 399.3,471.2 395.6,474.9 391.9,471.2" fill="#000" stroke="#000" stroke-width="0.3"/>
<polygon points="409.5,479.3 413.2,483 409.5,486.7 405.8,483" fill="#000" stroke="#000" stroke-width="0.3"/>
<polygon points="426.2,488.6 429.9,492.3 426.2,496 422.5,492.3" fill="#000" stroke="#000" stroke-width="0.3"/>
<polygon points="435.8,493 439.5,496.7 435.8,500.4 432.1,496.7" fill="#000" stroke="#000" stroke-width="0.3"/>
<polygon points="451.2,497.8 454.9,501.5 451.2,505.2 447.5,501.5" fill="#000" stroke="#000" stroke-width="0.3"/>
<polygon points="466.6,498.8 470.3,502.5 466.6,506.2 462.9,502.5" fill="#000" stroke="#000" stroke-width="0.3"/>
<polygon points="499.8,502.6 503.5,506.3 499.8,510 496.1,506.3" fill="#000" stroke="#000" stroke-width="0.3"/>
<rect x="339.35" y="423.45" width="7.1" height="7.1" fill="#000" stroke="#000" stroke-width="0.3"/>
<rect x="374.55" y="436.25" width="7.1" height="7.1" fill="#000" stroke="#000" stroke-width="0.3"/>
<rect x="392.05" y="452.15" width="7.1" height="7.1" fill="#000" stroke="#000" stroke-width="0.3"/>
<rect x="405.95" y="463.85" width="7.1" height="7.1" fill="#000" stroke="#000" stroke-width="0.3"/>
<rect x="422.65" y="476.85" width="7.1" height="7.1" fill="#000" stroke="#000" stroke-width="0.3"/>
<rect x="432.25" y="481.65" width="7.1" height="7.1" fill="#000" stroke="#000" stroke-width="0.3"/>
<rect x="447.65" y="494.15" width="7.1" height="7.1" fill="#000" stroke="#000" stroke-width="0.3"/>
<rect x="463.05" y="497.05" width="7.1" height="7.1" fill="#000" stroke="#000" stroke-width="0.3"/>
<rect x="496.25" y="499.95" width="7.1" height="7.1" fill="#000" stroke="#000" stroke-width="0.3"/>
<polygon points="342.9,397.45 346.65,390.55 339.15,390.55" fill="#000" stroke="#000" stroke-width="0.3" stroke-linejoin="miter"/>
<polygon points="378.1,420.85 381.85,413.95 374.35,413.95" fill="#000" stroke="#000" stroke-width="0.3" stroke-linejoin="miter"/>
<polygon points="395.6,442.25 399.35,435.35 391.85,435.35" fill="#000" stroke="#000" stroke-width="0.3" stroke-linejoin="miter"/>
<polygon points="409.5,455.95 413.25,449.05 405.75,449.05" fill="#000" stroke="#000" stroke-width="0.3" stroke-linejoin="miter"/>
<polygon points="426.2,469.95 429.95,463.05 422.45,463.05" fill="#000" stroke="#000" stroke-width="0.3" stroke-linejoin="miter"/>
<polygon points="435.8,481.95 439.55,475.05 432.05,475.05" fill="#000" stroke="#000" stroke-width="0.3" stroke-linejoin="miter"/>
<polygon points="451.2,489.65 454.95,482.75 447.45,482.75" fill="#000" stroke="#000" stroke-width="0.3" stroke-linejoin="miter"/>
<polygon points="466.6,496.35 470.35,489.45 462.85,489.45" fill="#000" stroke="#000" stroke-width="0.3" stroke-linejoin="miter"/>
<polygon points="499.8,504.95 503.55,498.05 496.05,498.05" fill="#000" stroke="#000" stroke-width="0.3" stroke-linejoin="miter"/>
<polygon points="342.9,364.05 346.65,370.95 339.15,370.95" fill="#000" stroke="#000" stroke-width="0.3" stroke-linejoin="miter"/>
<polygon points="378.1,394.85 381.85,401.75 374.35,401.75" fill="#000" stroke="#000" stroke-width="0.3" stroke-linejoin="miter"/>
<polygon points="395.6,420.05 399.35,426.95 391.85,426.95" fill="#000" stroke="#000" stroke-width="0.3" stroke-linejoin="miter"/>
<polygon points="409.5,438.55 413.25,445.45 405.75,445.45" fill="#000" stroke="#000" stroke-width="0.3" stroke-linejoin="miter"/>
<polygon points="426.2,454.85 429.95,461.75 422.45,461.75" fill="#000" stroke="#000" stroke-width="0.3" stroke-linejoin="miter"/>
<polygon points="435.8,465.35 439.55,472.25 432.05,472.25" fill="#000" stroke="#000" stroke-width="0.3" stroke-linejoin="miter"/>
<polygon points="451.2,477.85 454.95,484.75 447.45,484.75" fill="#000" stroke="#000" stroke-width="0.3" stroke-linejoin="miter"/>
<polygon points="466.6,484.55 470.35,491.45 462.85,491.45" fill="#000" stroke="#000" stroke-width="0.3" stroke-linejoin="miter"/>
<polygon points="499.8,495.25 503.55,502.15 496.05,502.15" fill="#000" stroke="#000" stroke-width="0.3" stroke-linejoin="miter"/>
<circle cx="342.9" cy="341.5" r="3.95" fill="#000" stroke="#000" stroke-width="0.3"/>
<circle cx="378.1" cy="381.9" r="3.95" fill="#000" stroke="#000" stroke-width="0.3"/>
<circle cx="395.6" cy="408" r="3.95" fill="#000" stroke="#000" stroke-width="0.3"/>
<circle cx="409.5" cy="428.5" r="3.95" fill="#000" stroke="#000" stroke-width="0.3"/>
<circle cx="426.2" cy="449.2" r="3.95" fill="#000" stroke="#000" stroke-width="0.3"/>
<circle cx="435.8" cy="461.2" r="3.95" fill="#000" stroke="#000" stroke-width="0.3"/>
<circle cx="451.2" cy="473.1" r="3.95" fill="#000" stroke="#000" stroke-width="0.3"/>
<circle cx="466.6" cy="479.4" r="3.95" fill="#000" stroke="#000" stroke-width="0.3"/>
<circle cx="499.8" cy="486.2" r="3.95" fill="#000" stroke="#000" stroke-width="0.3"/>
<path d="M119.9 779.84L101.3 783.96" fill="none" stroke="#000" stroke-width="1.2" stroke-dasharray="5 4"/>
<path d="M137.58 775.11L136.32 775.49" fill="none" stroke="#000" stroke-width="1.2" stroke-dasharray="5 4"/>
<path d="M153.73 764.75L151.77 766.65" fill="none" stroke="#000" stroke-width="1.2" stroke-dasharray="5 4"/>
<path d="M242.38 739.98L210.52 744.42" fill="none" stroke="#000" stroke-width="1.2" stroke-dasharray="5 4"/>
<path d="M120.11 698.35L101.09 693.05" fill="none" stroke="#000" stroke-width="1.2" stroke-dasharray="19.5 3.7"/>
<path d="M138.16 705.5L135.74 704.3" fill="none" stroke="#000" stroke-width="1.2" stroke-dasharray="19.5 3.7"/>
<path d="M242.4 710L210.5 710" fill="none" stroke="#000" stroke-width="1.2" stroke-dasharray="19.5 3.7"/>
<path d="M120.93 660.99L100.27 649.01" fill="none" stroke="#000" stroke-width="1.2" stroke-dasharray="19.5 3.5"/>
<path d="M137.98 669.39L135.92 668.51" fill="none" stroke="#000" stroke-width="1.2" stroke-dasharray="19.5 3.5"/>
<path d="M242.4 688.54L210.5 687.56" fill="none" stroke="#000" stroke-width="1.2" stroke-dasharray="19.5 3.5"/>
<path d="M121.44 636.05L99.76 619.55" fill="none" stroke="#000" stroke-width="1.2" stroke-dasharray="5 5"/>
<path d="M138.32 646.98L135.58 645.42" fill="none" stroke="#000" stroke-width="1.2" stroke-dasharray="5 5"/>
<path d="M168.99 665.45L167.61 664.85" fill="none" stroke="#000" stroke-width="1.2" stroke-dasharray="5 5"/>
<path d="M242.3 674.79L210.6 674.01" fill="none" stroke="#000" stroke-width="1.2" stroke-dasharray="5 5"/>
<path d="M121.68 621.55L99.52 603.05M138.65 634.05L135.25 631.75M153.24 645L152.26 644.2M168.88 653.92L167.72 653.48M242.31 670.49L210.59 669.31" fill="none" stroke="#000" stroke-width="1.2"/>
<path d="M121.5 601.75L99.7 583.65M139.77 619.73L134.13 613.67M153.52 633.58L151.98 632.12M169.3 645.19L167.3 644.01M242.1 658.75L210.8 658.55" fill="none" stroke="#000" stroke-width="1.2"/>
<path d="M87 785.8h12M93 779.8v12" stroke="#000" stroke-width="1.2" fill="none"/>
<path d="M122.2 778h12M128.2 772v12" stroke="#000" stroke-width="1.2" fill="none"/>
<path d="M139.7 772.6h12M145.7 766.6v12" stroke="#000" stroke-width="1.2" fill="none"/>
<path d="M153.8 758.8h12M159.8 752.8v12" stroke="#000" stroke-width="1.2" fill="none"/>
<path d="M170.8 753.7h12M176.8 747.7v12" stroke="#000" stroke-width="1.2" fill="none"/>
<path d="M180.8 751h12M186.8 745v12" stroke="#000" stroke-width="1.2" fill="none"/>
<path d="M196.1 745.6h12M202.1 739.6v12" stroke="#000" stroke-width="1.2" fill="none"/>
<path d="M244.8 738.8h12M250.8 732.8v12" stroke="#000" stroke-width="1.2" fill="none"/>
<polygon points="93,685.97 98.3,690.8 93,695.63 87.7,690.8" fill="none" stroke="#000" stroke-width="1.2"/>
<polygon points="128.2,695.77 133.5,700.6 128.2,705.43 122.9,700.6" fill="none" stroke="#000" stroke-width="1.2"/>
<polygon points="145.7,704.37 151,709.2 145.7,714.03 140.4,709.2" fill="none" stroke="#000" stroke-width="1.2"/>
<polygon points="159.8,705.17 165.1,710 159.8,714.83 154.5,710" fill="none" stroke="#000" stroke-width="1.2"/>
<polygon points="176.8,705.17 182.1,710 176.8,714.83 171.5,710" fill="none" stroke="#000" stroke-width="1.2"/>
<polygon points="186.8,705.17 192.1,710 186.8,714.83 181.5,710" fill="none" stroke="#000" stroke-width="1.2"/>
<polygon points="202.1,705.17 207.4,710 202.1,714.83 196.8,710" fill="none" stroke="#000" stroke-width="1.2"/>
<polygon points="250.8,705.17 256.1,710 250.8,714.83 245.5,710" fill="none" stroke="#000" stroke-width="1.2"/>
<rect x="87.7" y="639.5" width="10.6" height="10.6" fill="none" stroke="#000" stroke-width="1.2"/>
<rect x="122.9" y="659.9" width="10.6" height="10.6" fill="none" stroke="#000" stroke-width="1.2"/>
<rect x="140.4" y="667.4" width="10.6" height="10.6" fill="none" stroke="#000" stroke-width="1.2"/>
<rect x="154.5" y="674.7" width="10.6" height="10.6" fill="none" stroke="#000" stroke-width="1.2"/>
<rect x="171.5" y="676.6" width="10.6" height="10.6" fill="none" stroke="#000" stroke-width="1.2"/>
<rect x="181.5" y="680.1" width="10.6" height="10.6" fill="none" stroke="#000" stroke-width="1.2"/>
<rect x="196.8" y="682" width="10.6" height="10.6" fill="none" stroke="#000" stroke-width="1.2"/>
<rect x="245.5" y="683.5" width="10.6" height="10.6" fill="none" stroke="#000" stroke-width="1.2"/>
<polygon points="93,619.32 98.4,609.48 87.6,609.48" fill="none" stroke="#000" stroke-width="1.2" stroke-linejoin="miter"/>
<polygon points="128.2,646.12 133.6,636.28 122.8,636.28" fill="none" stroke="#000" stroke-width="1.2" stroke-linejoin="miter"/>
<polygon points="145.7,656.12 151.1,646.28 140.3,646.28" fill="none" stroke="#000" stroke-width="1.2" stroke-linejoin="miter"/>
<polygon points="159.8,666.42 165.2,656.58 154.4,656.58" fill="none" stroke="#000" stroke-width="1.2" stroke-linejoin="miter"/>
<polygon points="176.8,673.72 182.2,663.88 171.4,663.88" fill="none" stroke="#000" stroke-width="1.2" stroke-linejoin="miter"/>
<polygon points="186.8,675.72 192.2,665.88 181.4,665.88" fill="none" stroke="#000" stroke-width="1.2" stroke-linejoin="miter"/>
<polygon points="202.1,678.72 207.5,668.88 196.7,668.88" fill="none" stroke="#000" stroke-width="1.2" stroke-linejoin="miter"/>
<polygon points="250.8,679.92 256.2,670.08 245.4,670.08" fill="none" stroke="#000" stroke-width="1.2" stroke-linejoin="miter"/>
<polygon points="93,592.68 98.4,602.52 87.6,602.52" fill="none" stroke="#000" stroke-width="1.2" stroke-linejoin="miter"/>
<polygon points="128.2,622.08 133.6,631.92 122.8,631.92" fill="none" stroke="#000" stroke-width="1.2" stroke-linejoin="miter"/>
<polygon points="145.7,633.88 151.1,643.72 140.3,643.72" fill="none" stroke="#000" stroke-width="1.2" stroke-linejoin="miter"/>
<polygon points="159.8,645.48 165.2,655.32 154.4,655.32" fill="none" stroke="#000" stroke-width="1.2" stroke-linejoin="miter"/>
<polygon points="176.8,652.08 182.2,661.92 171.4,661.92" fill="none" stroke="#000" stroke-width="1.2" stroke-linejoin="miter"/>
<polygon points="186.8,655.08 192.2,664.92 181.4,664.92" fill="none" stroke="#000" stroke-width="1.2" stroke-linejoin="miter"/>
<polygon points="202.1,664.08 207.5,673.92 196.7,673.92" fill="none" stroke="#000" stroke-width="1.2" stroke-linejoin="miter"/>
<polygon points="250.8,665.88 256.2,675.72 245.4,675.72" fill="none" stroke="#000" stroke-width="1.2" stroke-linejoin="miter"/>
<circle cx="93" cy="578.1" r="5.6" fill="none" stroke="#000" stroke-width="1.2"/>
<circle cx="128.2" cy="607.3" r="5.6" fill="none" stroke="#000" stroke-width="1.2"/>
<circle cx="145.7" cy="626.1" r="5.6" fill="none" stroke="#000" stroke-width="1.2"/>
<circle cx="159.8" cy="639.6" r="5.6" fill="none" stroke="#000" stroke-width="1.2"/>
<circle cx="176.8" cy="649.6" r="5.6" fill="none" stroke="#000" stroke-width="1.2"/>
<circle cx="186.8" cy="652.7" r="5.6" fill="none" stroke="#000" stroke-width="1.2"/>
<circle cx="202.1" cy="658.5" r="5.6" fill="none" stroke="#000" stroke-width="1.2"/>
<circle cx="250.8" cy="658.8" r="5.6" fill="none" stroke="#000" stroke-width="1.2"/>
<path d="M372.79 782.56L347.11 777.44" fill="none" stroke="#000" stroke-width="1.2" stroke-dasharray="12 3"/>
<path d="M390.03 784.88L382.27 784.02" fill="none" stroke="#000" stroke-width="1.2" stroke-dasharray="12 3"/>
<path d="M404.23 786.46L399.57 785.94" fill="none" stroke="#000" stroke-width="1.2" stroke-dasharray="12 3"/>
<path d="M421.18 783.59L413.62 785.71" fill="none" stroke="#000" stroke-width="1.2" stroke-dasharray="12 3"/>
<path d="M446.01 776.86L439.79 777.34" fill="none" stroke="#000" stroke-width="1.2" stroke-dasharray="12 3"/>
<path d="M494 777.22L455.6 776.58" fill="none" stroke="#000" stroke-width="1.2" stroke-dasharray="12 3"/>
<path d="M373.2 701.19L346.7 693.11" fill="none" stroke="#000" stroke-width="1.2" stroke-dasharray="19 2.5"/>
<path d="M390.55 707.03L381.75 703.97" fill="none" stroke="#000" stroke-width="1.2" stroke-dasharray="19 2.5"/>
<path d="M404.76 712.08L399.04 710.02" fill="none" stroke="#000" stroke-width="1.2" stroke-dasharray="19 2.5"/>
<path d="M421.32 714.63L413.48 713.97" fill="none" stroke="#000" stroke-width="1.2" stroke-dasharray="19 2.5"/>
<path d="M446.42 719.75L439.38 718.05" fill="none" stroke="#000" stroke-width="1.2" stroke-dasharray="19 2.5"/>
<path d="M494.34 726.7L455.26 721.4" fill="none" stroke="#000" stroke-width="1.2" stroke-dasharray="19 2.5"/>
<path d="M373.35 665.27L346.55 654.13" fill="none" stroke="#000" stroke-width="1.2" stroke-dasharray="18 4.5"/>
<path d="M391.05 676.01L381.25 669.49" fill="none" stroke="#000" stroke-width="1.2" stroke-dasharray="18 4.5"/>
<path d="M405.5 687.17L398.3 681.33" fill="none" stroke="#000" stroke-width="1.2" stroke-dasharray="18 4.5"/>
<path d="M421.36 692.06L413.44 690.74" fill="none" stroke="#000" stroke-width="1.2" stroke-dasharray="18 4.5"/>
<path d="M431.4 697L429.4 695.5" fill="none" stroke="#000" stroke-width="1.2" stroke-dasharray="18 4.5"/>
<path d="M446.38 701.86L439.42 700.54" fill="none" stroke="#000" stroke-width="1.2" stroke-dasharray="18 4.5"/>
<path d="M494.39 711.69L455.21 703.61" fill="none" stroke="#000" stroke-width="1.2" stroke-dasharray="18 4.5"/>
<path d="M373.5 641.03L346.4 626.37" fill="none" stroke="#000" stroke-width="1.2" stroke-dasharray="20 2.2"/>
<path d="M391.19 653.73L381.11 645.97" fill="none" stroke="#000" stroke-width="1.2" stroke-dasharray="20 2.2"/>
<path d="M405.37 664.46L398.43 659.24" fill="none" stroke="#000" stroke-width="1.2" stroke-dasharray="20 2.2"/>
<path d="M421.79 674.05L413.01 669.35" fill="none" stroke="#000" stroke-width="1.2" stroke-dasharray="20 2.2"/>
<path d="M431.15 679.57L429.65 678.63" fill="none" stroke="#000" stroke-width="1.2" stroke-dasharray="20 2.2"/>
<path d="M446.79 688.34L439.01 684.16" fill="none" stroke="#000" stroke-width="1.2" stroke-dasharray="20 2.2"/>
<path d="M494.27 694.58L455.33 690.92" fill="none" stroke="#000" stroke-width="1.2" stroke-dasharray="20 2.2"/>
<path d="M374.01 615.88L345.89 592.42M391.67 633.7L380.63 622.1M405.92 649.05L397.88 640.35M422.31 663.57L412.49 655.33M431.23 670.16L429.57 669.04M446.53 676.93L439.27 674.27M494.36 688.48L455.24 679.52" fill="none" stroke="#000" stroke-width="1.2"/>
<path d="M373.96 594.83L345.94 569.67M391.86 616.27L380.44 601.73M405.95 633.35L397.85 623.65M422.55 651.44L412.25 640.46M430.98 658.17L429.82 657.43M446.75 667.91L439.05 663.19M494.21 681.79L455.39 671.61" fill="none" stroke="#000" stroke-width="1.2"/>
<path d="M338.4 776.5h8M342.4 772.5v8" stroke="#000" stroke-width="2.2" fill="none"/>
<path d="M373.5 783.5h8M377.5 779.5v8" stroke="#000" stroke-width="2.2" fill="none"/>
<path d="M390.8 785.4h8M394.8 781.4v8" stroke="#000" stroke-width="2.2" fill="none"/>
<path d="M405 787h8M409 783v8" stroke="#000" stroke-width="2.2" fill="none"/>
<path d="M421.8 782.3h8M425.8 778.3v8" stroke="#000" stroke-width="2.2" fill="none"/>
<path d="M431 777.7h8M435 773.7v8" stroke="#000" stroke-width="2.2" fill="none"/>
<path d="M446.8 776.5h8M450.8 772.5v8" stroke="#000" stroke-width="2.2" fill="none"/>
<path d="M494.8 777.3h8M498.8 773.3v8" stroke="#000" stroke-width="2.2" fill="none"/>
<polygon points="342.4,688.1 346.1,691.8 342.4,695.5 338.7,691.8" fill="#000" stroke="#000" stroke-width="0.3"/>
<polygon points="377.5,698.8 381.2,702.5 377.5,706.2 373.8,702.5" fill="#000" stroke="#000" stroke-width="0.3"/>
<polygon points="394.8,704.8 398.5,708.5 394.8,712.2 391.1,708.5" fill="#000" stroke="#000" stroke-width="0.3"/>
<polygon points="409,709.9 412.7,713.6 409,717.3 405.3,713.6" fill="#000" stroke="#000" stroke-width="0.3"/>
<polygon points="425.8,711.3 429.5,715 425.8,718.7 422.1,715" fill="#000" stroke="#000" stroke-width="0.3"/>
<polygon points="435,713.3 438.7,717 435,720.7 431.3,717" fill="#000" stroke="#000" stroke-width="0.3"/>
<polygon points="450.8,717.1 454.5,720.8 450.8,724.5 447.1,720.8" fill="#000" stroke="#000" stroke-width="0.3"/>
<polygon points="498.8,723.6 502.5,727.3 498.8,731 495.1,727.3" fill="#000" stroke="#000" stroke-width="0.3"/>
<rect x="338.85" y="648.85" width="7.1" height="7.1" fill="#000" stroke="#000" stroke-width="0.3"/>
<rect x="373.95" y="663.45" width="7.1" height="7.1" fill="#000" stroke="#000" stroke-width="0.3"/>
<rect x="391.25" y="674.95" width="7.1" height="7.1" fill="#000" stroke="#000" stroke-width="0.3"/>
<rect x="405.45" y="686.45" width="7.1" height="7.1" fill="#000" stroke="#000" stroke-width="0.3"/>
<rect x="422.25" y="689.25" width="7.1" height="7.1" fill="#000" stroke="#000" stroke-width="0.3"/>
<rect x="431.45" y="696.15" width="7.1" height="7.1" fill="#000" stroke="#000" stroke-width="0.3"/>
<rect x="447.25" y="699.15" width="7.1" height="7.1" fill="#000" stroke="#000" stroke-width="0.3"/>
<rect x="495.25" y="709.05" width="7.1" height="7.1" fill="#000" stroke="#000" stroke-width="0.3"/>
<polygon points="342.4,627.65 346.15,620.75 338.65,620.75" fill="#000" stroke="#000" stroke-width="0.3" stroke-linejoin="miter"/>
<polygon points="377.5,646.65 381.25,639.75 373.75,639.75" fill="#000" stroke="#000" stroke-width="0.3" stroke-linejoin="miter"/>
<polygon points="394.8,659.95 398.55,653.05 391.05,653.05" fill="#000" stroke="#000" stroke-width="0.3" stroke-linejoin="miter"/>
<polygon points="409,670.65 412.75,663.75 405.25,663.75" fill="#000" stroke="#000" stroke-width="0.3" stroke-linejoin="miter"/>
<polygon points="425.8,679.65 429.55,672.75 422.05,672.75" fill="#000" stroke="#000" stroke-width="0.3" stroke-linejoin="miter"/>
<polygon points="435,685.45 438.75,678.55 431.25,678.55" fill="#000" stroke="#000" stroke-width="0.3" stroke-linejoin="miter"/>
<polygon points="450.8,693.95 454.55,687.05 447.05,687.05" fill="#000" stroke="#000" stroke-width="0.3" stroke-linejoin="miter"/>
<polygon points="498.8,698.45 502.55,691.55 495.05,691.55" fill="#000" stroke="#000" stroke-width="0.3" stroke-linejoin="miter"/>
<polygon points="342.4,586.05 346.15,592.95 338.65,592.95" fill="#000" stroke="#000" stroke-width="0.3" stroke-linejoin="miter"/>
<polygon points="377.5,615.35 381.25,622.25 373.75,622.25" fill="#000" stroke="#000" stroke-width="0.3" stroke-linejoin="miter"/>
<polygon points="394.8,633.55 398.55,640.45 391.05,640.45" fill="#000" stroke="#000" stroke-width="0.3" stroke-linejoin="miter"/>
<polygon points="409,648.95 412.75,655.85 405.25,655.85" fill="#000" stroke="#000" stroke-width="0.3" stroke-linejoin="miter"/>
<polygon points="425.8,663.05 429.55,669.95 422.05,669.95" fill="#000" stroke="#000" stroke-width="0.3" stroke-linejoin="miter"/>
<polygon points="435,669.25 438.75,676.15 431.25,676.15" fill="#000" stroke="#000" stroke-width="0.3" stroke-linejoin="miter"/>
<polygon points="450.8,675.05 454.55,681.95 447.05,681.95" fill="#000" stroke="#000" stroke-width="0.3" stroke-linejoin="miter"/>
<polygon points="498.8,686.05 502.55,692.95 495.05,692.95" fill="#000" stroke="#000" stroke-width="0.3" stroke-linejoin="miter"/>
<circle cx="342.4" cy="566.5" r="3.95" fill="#000" stroke="#000" stroke-width="0.3"/>
<circle cx="377.5" cy="598" r="3.95" fill="#000" stroke="#000" stroke-width="0.3"/>
<circle cx="394.8" cy="620" r="3.95" fill="#000" stroke="#000" stroke-width="0.3"/>
<circle cx="409" cy="637" r="3.95" fill="#000" stroke="#000" stroke-width="0.3"/>
<circle cx="425.8" cy="654.9" r="3.95" fill="#000" stroke="#000" stroke-width="0.3"/>
<circle cx="435" cy="660.7" r="3.95" fill="#000" stroke="#000" stroke-width="0.3"/>
<circle cx="450.8" cy="670.4" r="3.95" fill="#000" stroke="#000" stroke-width="0.3"/>
<circle cx="498.8" cy="683" r="3.95" fill="#000" stroke="#000" stroke-width="0.3"/>
<path d="M192.3 248.7V232M187.7 240.3L192.3 232L196.9 240.3" fill="none" stroke="#000" stroke-width="1.2"/>
<path d="M439.5 253.2V236.9M435.4 244.8L439.5 236.9L443.6 244.8" fill="none" stroke="#000" stroke-width="1.2"/>
<path d="M192.7 519.2V503.1M188.7 510.4L192.7 503.1L196.7 510.4" fill="none" stroke="#000" stroke-width="1.2"/>
<path d="M440.4 521.5V505.5M436.2 512.5L440.4 505.5L444.6 512.5" fill="none" stroke="#000" stroke-width="1.2"/>
<path d="M192 791V773.8M188.1 781.5L192 773.8L195.9 781.5" fill="none" stroke="#000" stroke-width="1.2"/>
<path d="M439.6 794V779.6M435.9 786.5L439.6 779.6L443.3 786.5" fill="none" stroke="#000" stroke-width="1.2"/>
</g>
<g>
<text transform="translate(16.9 208.13) rotate(-90) scale(0.9406 1)" font-size="16.774">CLOTTING TIME,</text>
<text transform="translate(17.1 72.97) rotate(-90) scale(0.9933 1)" font-size="16.372">sec</text>
<text transform="translate(17.2 486.35) rotate(-90) scale(0.9383 1)" font-size="17.204">CLOTTING TIME,</text>
<text transform="translate(17.4 348.06) rotate(-90) scale(0.9495 1)" font-size="16.930">sec</text>
<text transform="translate(17.2 747.25) rotate(-90) scale(0.9306 1)" font-size="17.348">CLOTTING TIME,</text>
<text transform="translate(17.4 608.56) rotate(-90) scale(0.9532 1)" font-size="16.930">sec</text>
<text transform="translate(78.86 839.8) scale(1.0457 1)" font-size="16.201">PROTHROMBIN,</text>
<text transform="translate(216.22 839.8) scale(1.0116 1)" font-size="16.436">µM</text>
<text transform="translate(328.37 842.4) scale(1.0421 1)" font-size="16.057">PROTHROMBIN,</text>
<text transform="translate(465.23 842.4) scale(1.0062 1)" font-size="16.291">µM</text>
<text transform="translate(210.13 49.5) scale(0.9568 1)" font-size="32.291" stroke="#000" stroke-width="0.6" stroke-linejoin="round">A</text>
<text transform="translate(462.52 51.7) scale(0.9087 1)" font-size="32.291" stroke="#000" stroke-width="0.6" stroke-linejoin="round">B</text>
<text transform="translate(214.95 317.08) scale(0.9841 1)" font-size="31.802" stroke="#000" stroke-width="0.6" stroke-linejoin="round">C</text>
<text transform="translate(458.3 317.6) scale(0.9657 1)" font-size="32.291" stroke="#000" stroke-width="0.6" stroke-linejoin="round">D</text>
<text transform="translate(212.89 587.2) scale(0.8837 1)" font-size="33.745" stroke="#000" stroke-width="0.6" stroke-linejoin="round">E</text>
<text transform="translate(463.39 589.5) scale(0.9406 1)" font-size="33.309" stroke="#000" stroke-width="0.6" stroke-linejoin="round">F</text>
<text transform="translate(25.63 14.17) scale(1.0174 1)" font-size="14.085" stroke="#000" stroke-width="0.3" stroke-linejoin="round">300</text>
<text transform="translate(25.44 112.62) scale(1.0802 1)" font-size="13.428" stroke="#000" stroke-width="0.3" stroke-linejoin="round">100</text>
<text transform="translate(32.73 254.71) scale(1.0633 1)" font-size="13.993" stroke="#000" stroke-width="0.3" stroke-linejoin="round">20</text>
<text transform="translate(278.36 15.89) scale(1.0076 1)" font-size="12.676" stroke="#000" stroke-width="0.3" stroke-linejoin="round">300</text>
<text transform="translate(278.66 115.12) scale(0.9576 1)" font-size="13.145" stroke="#000" stroke-width="0.3" stroke-linejoin="round">100</text>
<text transform="translate(284.29 258.22) scale(1.0105 1)" font-size="13.004" stroke="#000" stroke-width="0.3" stroke-linejoin="round">20</text>
<text transform="translate(26.63 280.48) scale(1.0444 1)" font-size="13.662" stroke="#000" stroke-width="0.3" stroke-linejoin="round">300</text>
<text transform="translate(27.14 378.62) scale(1.0035 1)" font-size="12.862" stroke="#000" stroke-width="0.3" stroke-linejoin="round">100</text>
<text transform="translate(33.87 524.91) scale(0.9874 1)" font-size="13.993" stroke="#000" stroke-width="0.3" stroke-linejoin="round">20</text>
<text transform="translate(276.73 283.38) scale(1.0277 1)" font-size="13.944" stroke="#000" stroke-width="0.3" stroke-linejoin="round">300</text>
<text transform="translate(276.46 381.21) scale(1.0346 1)" font-size="13.710" stroke="#000" stroke-width="0.3" stroke-linejoin="round">100</text>
<text transform="translate(284.46 527.01) scale(1.0044 1)" font-size="13.852" stroke="#000" stroke-width="0.3" stroke-linejoin="round">20</text>
<text transform="translate(25.63 547.28) scale(1.0535 1)" font-size="13.662" stroke="#000" stroke-width="0.3" stroke-linejoin="round">300</text>
<text transform="translate(26.42 648.71) scale(0.9741 1)" font-size="13.710" stroke="#000" stroke-width="0.3" stroke-linejoin="round">100</text>
<text transform="translate(33.45 796.6) scale(0.9662 1)" font-size="14.700" stroke="#000" stroke-width="0.3" stroke-linejoin="round">20</text>
<text transform="translate(276.54 551.79) scale(1.1034 1)" font-size="12.535" stroke="#000" stroke-width="0.3" stroke-linejoin="round">300</text>
<text transform="translate(276.27 652.41) scale(1.0253 1)" font-size="13.710" stroke="#000" stroke-width="0.3" stroke-linejoin="round">100</text>
<text transform="translate(283.96 799.51) scale(1.0184 1)" font-size="13.852" stroke="#000" stroke-width="0.3" stroke-linejoin="round">20</text>
<text transform="translate(71.77 265.57) scale(1.0264 1)" font-size="14.225" stroke="#000" stroke-width="0.3" stroke-linejoin="round">0.3</text>
<text transform="translate(163.09 266.85) scale(0.7392 1)" font-size="14.255" stroke="#000" stroke-width="0.3" stroke-linejoin="round">1</text>
<text transform="translate(260.93 267.75) scale(1.0097 1)" font-size="14.255" stroke="#000" stroke-width="0.3" stroke-linejoin="round">4</text>
<text transform="translate(321.07 268.49) scale(1.1332 1)" font-size="12.817" stroke="#000" stroke-width="0.3" stroke-linejoin="round">0.3</text>
<text transform="translate(411.59 270.35) scale(0.7173 1)" font-size="14.691" stroke="#000" stroke-width="0.3" stroke-linejoin="round">1</text>
<text transform="translate(508.94 270.35) scale(1.0709 1)" font-size="13.091" stroke="#000" stroke-width="0.3" stroke-linejoin="round">4</text>
<text transform="translate(72.78 536.09) scale(1.1344 1)" font-size="12.535" stroke="#000" stroke-width="0.3" stroke-linejoin="round">0.3</text>
<text transform="translate(164.05 536.35) scale(0.8837 1)" font-size="12.655" stroke="#000" stroke-width="0.3" stroke-linejoin="round">1</text>
<text transform="translate(261.85 537.55) scale(1.0540 1)" font-size="12.945" stroke="#000" stroke-width="0.3" stroke-linejoin="round">4</text>
<text transform="translate(321.57 538.28) scale(1.0971 1)" font-size="13.239" stroke="#000" stroke-width="0.3" stroke-linejoin="round">0.3</text>
<text transform="translate(413.3 539.15) scale(0.7027 1)" font-size="14.691" stroke="#000" stroke-width="0.3" stroke-linejoin="round">1</text>
<text transform="translate(509.96 539.45) scale(1.1203 1)" font-size="11.345" stroke="#000" stroke-width="0.3" stroke-linejoin="round">4</text>
<text transform="translate(72.28 808.09) scale(1.1033 1)" font-size="12.958" stroke="#000" stroke-width="0.3" stroke-linejoin="round">0.3</text>
<text transform="translate(163.24 808.45) scale(0.8336 1)" font-size="13.673" stroke="#000" stroke-width="0.3" stroke-linejoin="round">1</text>
<text transform="translate(260.94 809.75) scale(0.9766 1)" font-size="14.545" stroke="#000" stroke-width="0.3" stroke-linejoin="round">4</text>
<text transform="translate(322.28 811.28) scale(1.0798 1)" font-size="13.239" stroke="#000" stroke-width="0.3" stroke-linejoin="round">0.3</text>
<text transform="translate(412.11 812.15) scale(0.8471 1)" font-size="13.964" stroke="#000" stroke-width="0.3" stroke-linejoin="round">1</text>
<text transform="translate(509.06 812.55) scale(0.9296 1)" font-size="13.673" stroke="#000" stroke-width="0.3" stroke-linejoin="round">4</text>
<text transform="translate(69.81 25.76) scale(1.0214 1)" font-size="9.187" stroke="#000" stroke-width="0.3" stroke-linejoin="round">40</text>
<text transform="translate(69.74 44.35) scale(1.1569 1)" font-size="8.169" stroke="#000" stroke-width="0.3" stroke-linejoin="round">32</text>
<text transform="translate(69.63 62.35) scale(1.0084 1)" font-size="9.176" stroke="#000" stroke-width="0.3" stroke-linejoin="round">24</text>
<text transform="translate(70.61 89.76) scale(0.9074 1)" font-size="9.470" stroke="#000" stroke-width="0.3" stroke-linejoin="round">16</text>
<text transform="translate(72.84 132.07) scale(1.1253 1)" font-size="8.481" stroke="#000" stroke-width="0.3" stroke-linejoin="round">8</text>
<text transform="translate(71.73 230.95) scale(1.0793 1)" font-size="9.753" stroke="#000" stroke-width="0.3" stroke-linejoin="round">0</text>
<text transform="translate(320.2 96.76) scale(1.1324 1)" font-size="8.622" stroke="#000" stroke-width="0.3" stroke-linejoin="round">40</text>
<text transform="translate(320.13 116.25) scale(1.2037 1)" font-size="8.169" stroke="#000" stroke-width="0.3" stroke-linejoin="round">32</text>
<text transform="translate(320.01 141.05) scale(1.1779 1)" font-size="8.172" stroke="#000" stroke-width="0.3" stroke-linejoin="round">24</text>
<text transform="translate(320.56 165.37) scale(1.1251 1)" font-size="8.339" stroke="#000" stroke-width="0.3" stroke-linejoin="round">16</text>
<text transform="translate(321.78 192.76) scale(1.2975 1)" font-size="8.763" stroke="#000" stroke-width="0.3" stroke-linejoin="round">8</text>
<text transform="translate(321.75 223.57) scale(1.2070 1)" font-size="8.198" stroke="#000" stroke-width="0.3" stroke-linejoin="round">0</text>
<text transform="translate(68.38 301.76) scale(1.1264 1)" font-size="9.470" stroke="#000" stroke-width="0.3" stroke-linejoin="round">16</text>
<text transform="translate(112.12 293.45) scale(0.9019 1)" font-size="10.466" stroke="#000" stroke-width="0.3" stroke-linejoin="round">24</text>
<text transform="translate(127.23 293.32) scale(0.9378 1)" font-size="10.282" stroke="#000" stroke-width="0.3" stroke-linejoin="round">32</text>
<text transform="translate(152.2 293.35) scale(0.9646 1)" font-size="10.318" stroke="#000" stroke-width="0.3" stroke-linejoin="round">40</text>
<text transform="translate(71.84 383.57) scale(1.1253 1)" font-size="8.481" stroke="#000" stroke-width="0.3" stroke-linejoin="round">8</text>
<text transform="translate(70.75 485.77) scale(1.2282 1)" font-size="8.057" stroke="#000" stroke-width="0.3" stroke-linejoin="round">0</text>
<text transform="translate(320.01 346.06) scale(1.0374 1)" font-size="9.046" stroke="#000" stroke-width="0.3" stroke-linejoin="round">40</text>
<text transform="translate(319.94 371.05) scale(1.1569 1)" font-size="8.169" stroke="#000" stroke-width="0.3" stroke-linejoin="round">32</text>
<text transform="translate(319.83 398.15) scale(0.9928 1)" font-size="9.319" stroke="#000" stroke-width="0.3" stroke-linejoin="round">24</text>
<text transform="translate(319.18 429.96) scale(1.0154 1)" font-size="9.046" stroke="#000" stroke-width="0.3" stroke-linejoin="round">16</text>
<text transform="translate(321.31 462.06) scale(1.2048 1)" font-size="8.763" stroke="#000" stroke-width="0.3" stroke-linejoin="round">8</text>
<text transform="translate(321.7 496.26) scale(1.2567 1)" font-size="9.046" stroke="#000" stroke-width="0.3" stroke-linejoin="round">0</text>
<text transform="translate(64.72 580.46) scale(1.1422 1)" font-size="8.905" stroke="#000" stroke-width="0.3" stroke-linejoin="round">8.0</text>
<text transform="translate(64.68 602.36) scale(1.1168 1)" font-size="8.905" stroke="#000" stroke-width="0.3" stroke-linejoin="round">6.4</text>
<text transform="translate(64.9 624.96) scale(1.1188 1)" font-size="8.905" stroke="#000" stroke-width="0.3" stroke-linejoin="round">4.8</text>
<text transform="translate(64.82 650.23) scale(1.0539 1)" font-size="9.577" stroke="#000" stroke-width="0.3" stroke-linejoin="round">3.2</text>
<text transform="translate(65.45 698.05) scale(0.9982 1)" font-size="9.611" stroke="#000" stroke-width="0.3" stroke-linejoin="round">1.6</text>
<text transform="translate(69.28 782.76) scale(1.0744 1)" font-size="8.622" stroke="#000" stroke-width="0.3" stroke-linejoin="round">0</text>
<text transform="translate(317.52 570.75) scale(1.0069 1)" font-size="10.177" stroke="#000" stroke-width="0.3" stroke-linejoin="round">8.0</text>
<text transform="translate(317.47 593.26) scale(1.0579 1)" font-size="9.470" stroke="#000" stroke-width="0.3" stroke-linejoin="round">6.4</text>
<text transform="translate(317.7 627.76) scale(1.0925 1)" font-size="9.187" stroke="#000" stroke-width="0.3" stroke-linejoin="round">4.8</text>
<text transform="translate(317.94 656.23) scale(0.9886 1)" font-size="9.296" stroke="#000" stroke-width="0.3" stroke-linejoin="round">3.2</text>
<text transform="translate(318.08 692.06) scale(0.9704 1)" font-size="9.329" stroke="#000" stroke-width="0.3" stroke-linejoin="round">1.6</text>
<text transform="translate(320.95 779.36) scale(1.0938 1)" font-size="9.046" stroke="#000" stroke-width="0.3" stroke-linejoin="round">0</text>
</g>
</svg>
</body></html>
